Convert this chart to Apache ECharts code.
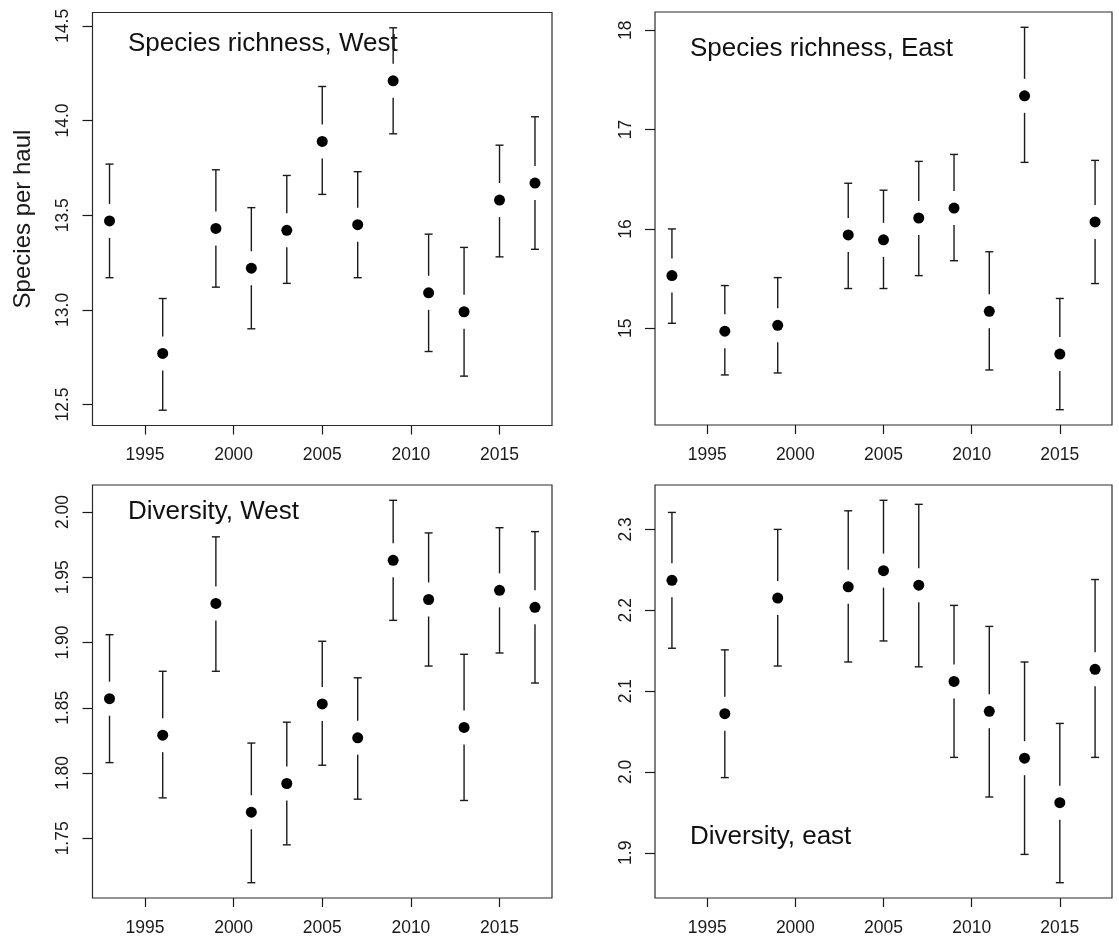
<!DOCTYPE html>
<html>
<head>
<meta charset="utf-8">
<script src="https://cdn.jsdelivr.net/npm/echarts@6/dist/echarts.min.js"></script>
<style>
html,body{margin:0;padding:0;background:#fff;}
#chart{width:1119px;height:941px;}
</style>
</head>
<body>
<div id="chart"></div>
<script>
// ---------- data ----------
const yearsWest = [1993, 1996, 1999, 2001, 2003, 2005, 2007, 2009, 2011, 2013, 2015, 2017];
const yearsEast = [1993, 1996, 1999, 2003, 2005, 2007, 2009, 2011, 2013, 2015, 2017];

const richWestMean = [13.47, 12.77, 13.43, 13.22, 13.42, 13.89, 13.45, 14.21, 13.09, 12.99, 13.58, 13.67];
const richWestLow  = [13.17, 12.47, 13.12, 12.90, 13.14, 13.61, 13.17, 13.93, 12.78, 12.65, 13.28, 13.32];
const richWestHigh = [13.77, 13.06, 13.74, 13.54, 13.71, 14.18, 13.73, 14.49, 13.40, 13.33, 13.87, 14.02];

const richEastMean = [15.53, 14.97, 15.03, 15.94, 15.89, 16.11, 16.21, 15.17, 17.34, 14.74, 16.07];
const richEastLow  = [15.05, 14.53, 14.55, 15.40, 15.40, 15.53, 15.68, 14.58, 16.67, 14.18, 15.45];
const richEastHigh = [16.00, 15.43, 15.51, 16.46, 16.39, 16.68, 16.75, 15.77, 18.03, 15.30, 16.69];

const divWestMean = [1.857, 1.829, 1.930, 1.770, 1.792, 1.853, 1.827, 1.963, 1.933, 1.835, 1.940, 1.927];
const divWestLow  = [1.808, 1.781, 1.878, 1.716, 1.745, 1.806, 1.780, 1.917, 1.882, 1.779, 1.892, 1.869];
const divWestHigh = [1.906, 1.878, 1.981, 1.823, 1.839, 1.901, 1.873, 2.009, 1.984, 1.891, 1.988, 1.985];

const divEastMean = [2.237, 2.072, 2.215, 2.229, 2.249, 2.231, 2.112, 2.075, 2.017, 1.962, 2.127];
const divEastLow  = [2.153, 1.993, 2.131, 2.136, 2.162, 2.130, 2.018, 1.969, 1.898, 1.863, 2.018];
const divEastHigh = [2.321, 2.151, 2.300, 2.323, 2.336, 2.331, 2.206, 2.180, 2.136, 2.060, 2.238];

const xTicks = [1995, 2000, 2005, 2010, 2015];
const yTicksRichWest = [12.5, 13.0, 13.5, 14.0, 14.5];
const yTicksRichEast = [15, 16, 17, 18];
const yTicksDivWest = [1.75, 1.80, 1.85, 1.90, 1.95, 2.00];
const yTicksDivEast = [1.9, 2.0, 2.1, 2.2, 2.3];

const panelTitles = ['Species richness, West', 'Species richness, East', 'Diversity, West', 'Diversity, east'];
const yAxisTitle = 'Species per haul';

// ---------- layout / style ----------
const FONT = '"Liberation Sans", Arial, Helvetica, sans-serif';
const INK = '#1a1a1a';
const grids = [
  {left: 92.5, top: 12.5, width: 459.5, height: 413},
  {left: 655, top: 12, width: 457, height: 413},
  {left: 92.5, top: 485, width: 459.5, height: 413},
  {left: 655, top: 485, width: 457, height: 413}
];
const panels = [
  {years: yearsWest, mean: richWestMean, low: richWestLow, high: richWestHigh, ticks: yTicksRichWest, digits: 1},
  {years: yearsEast, mean: richEastMean, low: richEastLow, high: richEastHigh, ticks: yTicksRichEast, digits: 0},
  {years: yearsWest, mean: divWestMean, low: divWestLow, high: divWestHigh, ticks: yTicksDivWest, digits: 2},
  {years: yearsEast, mean: divEastMean, low: divEastLow, high: divEastHigh, ticks: yTicksDivEast, digits: 1}
];
const titlePos = [[128, 44], [690, 49], [128, 512], [690, 837]];

function rangeOf(arrLow, arrHigh) {
  const lo = Math.min.apply(null, arrLow), hi = Math.max.apply(null, arrHigh);
  const r = hi - lo;
  return [lo - 0.04 * r, hi + 0.04 * r];
}

function renderErr(params, api) {
  const x = api.value(0), m = api.value(1), lo = api.value(2), hi = api.value(3);
  const pm = api.coord([x, m]), pl = api.coord([x, lo]), ph = api.coord([x, hi]);
  const gap = 17, cap = 4;
  const style = {stroke: INK, lineWidth: 1.4};
  const ch = [];
  if (pm[1] - gap > ph[1]) ch.push({type: 'line', shape: {x1: ph[0], y1: ph[1], x2: ph[0], y2: pm[1] - gap}, style});
  if (pm[1] + gap < pl[1]) ch.push({type: 'line', shape: {x1: pl[0], y1: pm[1] + gap, x2: pl[0], y2: pl[1]}, style});
  ch.push({type: 'line', shape: {x1: ph[0] - cap, y1: ph[1], x2: ph[0] + cap, y2: ph[1]}, style});
  ch.push({type: 'line', shape: {x1: pl[0] - cap, y1: pl[1], x2: pl[0] + cap, y2: pl[1]}, style});
  return {type: 'group', children: ch};
}

const xAxes = [], yAxes = [], series = [], graphics = [];
panels.forEach((p, i) => {
  xAxes.push({
    type: 'value', gridIndex: i,
    min: 1993 - 0.96, max: 2017 + 0.96,
    axisLine: {show: false},
    splitLine: {show: false},
    axisTick: {show: true, length: 9, customValues: xTicks, lineStyle: {color: INK, width: 1.2}},
    axisLabel: {customValues: xTicks, margin: 21, color: INK, fontSize: 17.5, fontFamily: FONT,
      formatter: (v => String(Math.round(v)))}
  });
  const yr = rangeOf(p.low, p.high);
  const ya = {
    type: 'value', gridIndex: i,
    min: yr[0], max: yr[1],
    axisLine: {show: false},
    splitLine: {show: false},
    axisTick: {show: true, length: 10, customValues: p.ticks, lineStyle: {color: INK, width: 1.2}},
    axisLabel: {
      customValues: p.ticks, rotate: 90, margin: 20, color: INK, fontSize: 17.5, fontFamily: FONT,
      formatter: (v => Number(v).toFixed(p.digits))
    }
  };
  if (i === 0) {
    ya.name = yAxisTitle;
    ya.nameLocation = 'middle';
    ya.nameGap = 57;
    ya.nameTextStyle = {fontSize: 24, color: INK, fontFamily: FONT};
  }
  yAxes.push(ya);
  const errData = p.years.map((y, k) => [y, p.mean[k], p.low[k], p.high[k]]);
  series.push({
    type: 'custom', xAxisIndex: i, yAxisIndex: i,
    renderItem: renderErr, data: errData, silent: true, z: 2,
    encode: {x: 0, y: [1, 2, 3]}
  });
  series.push({
    type: 'scatter', xAxisIndex: i, yAxisIndex: i,
    data: p.years.map((y, k) => [y, p.mean[k]]),
    symbol: 'circle', symbolSize: 11,
    itemStyle: {color: '#000', opacity: 1}, silent: true, z: 3
  });
  graphics.push({
    type: 'text', silent: true,
    style: {
      text: panelTitles[i], x: titlePos[i][0], y: titlePos[i][1],
      font: '26px ' + FONT, fill: '#111',
      textAlign: 'left', textVerticalAlign: 'middle'
    }
  });
});

const chart = echarts.init(document.getElementById('chart'), null, {renderer: 'canvas'});
chart.setOption({
  backgroundColor: '#ffffff',
  animation: false,
  grid: grids.map(g => Object.assign({show: true, borderColor: '#2a2a2a', borderWidth: 1.2, backgroundColor: 'transparent'}, g)),
  xAxis: xAxes,
  yAxis: yAxes,
  series: series,
  graphic: graphics
});
</script>
</body>
</html>
